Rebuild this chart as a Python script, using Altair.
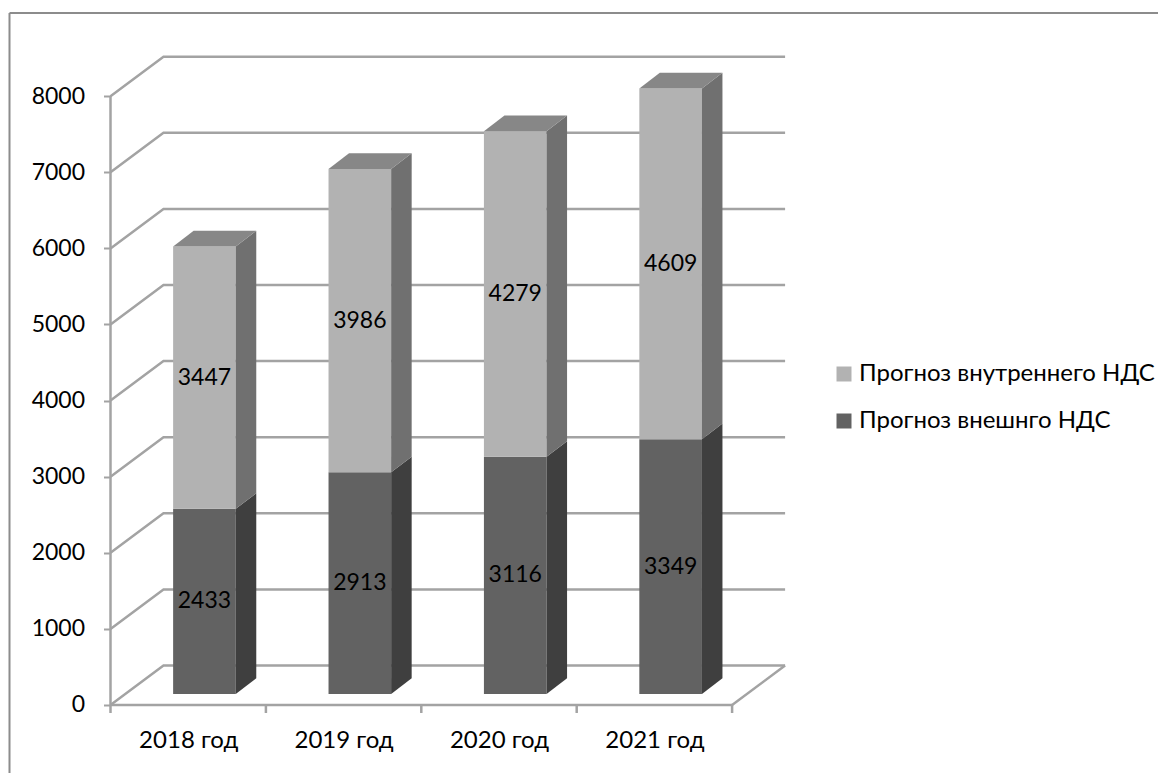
import json
import altair as alt
import pandas as pd

categories = ["2018 год", "2019 год", "2020 год", "2021 год"]
outer_vat = [2433, 2913, 3116, 3349]
inner_vat = [3447, 3986, 4279, 4609]
series_names = ["Прогноз внутреннего НДС", "Прогноз внешнго НДС"]
y_ticks = [0, 1000, 2000, 3000, 4000, 5000, 6000, 7000, 8000]

FONT = "Lato"
FS = 23
FS_TEXT = 24
INK = "#000000"
AXIS = "#a3a3a3"
BORDER = "#8c8c8c"
LIGHT = {"front": "#b2b2b2", "side": "#707070", "top": "#878787"}
DARK = {"front": "#626262", "side": "#3f3f3f", "top": "#878787"}

# 3-D projection expressed in data units (x: categories, y: value units)
WALL_DX, WALL_DV = 0.341, 519
BAR_DX, BAR_DV = 0.132, 206
BAR_LEFT, BAR_W = 0.403, 0.403
BASE = 144.5

xs = alt.Scale(domain=[-0.6596, 6.7407], nice=False, zero=False)
ys = alt.Scale(domain=[-893.6, 9159], nice=False, zero=False)

grid, front, side, top, labels = [], [], [], [], []
for v in y_ticks:
    grid.append({"x": 0, "y": v, "k": v})
    grid.append({"x": WALL_DX, "y": v + WALL_DV, "k": v})
    grid.append({"x": 4 + WALL_DX, "y": v + WALL_DV, "k": v})

for i in range(len(categories)):
    x0, x1 = i + BAR_LEFT, i + BAR_LEFT + BAR_W
    stack = [(0, outer_vat[i], series_names[1], DARK), (outer_vat[i], outer_vat[i] + inner_vat[i], series_names[0], LIGHT)]
    for j, (a, b, name, pal) in enumerate(stack):
        lo, hi = a + BASE, b + BASE
        front.append({"x": x0, "x2": x1, "y": lo, "y2": hi, "s": name})
        k = f"{i}-{j}"
        side.append({"x": x1, "y": lo, "y2": hi, "k": k, "c": pal["side"]})
        side.append({"x": x1 + BAR_DX, "y": lo + BAR_DV, "y2": hi + BAR_DV, "k": k, "c": pal["side"]})
        labels.append({"x": (x0 + x1) / 2, "y": (lo + hi) / 2, "t": str(b - a)})
    tv = stack[-1][1] + BASE
    top.append({"y": tv, "x": x0, "x2": x1, "k": i})
    top.append({"y": tv + BAR_DV, "x": x0 + BAR_DX, "x2": x1 + BAR_DX, "k": i})

y_axis = alt.Axis(values=y_ticks, grid=False, domain=False, offset=-102.5, tickSize=7, tickWidth=2,
                  tickColor=AXIS, labelFont=FONT, labelFontSize=FS, labelColor=INK, labelPadding=19, title=None,
                  format="d", labelBound=False, labelFlush=False)
label_expr = "%s[floor(datum.value)]" % json.dumps(categories, ensure_ascii=False)
x_axis = alt.Axis(values=[i + 0.5 for i in range(len(categories))], grid=False, domain=False, ticks=False,
                  offset=-68, labelExpr=label_expr, labelFont=FONT, labelFontSize=FS_TEXT, labelColor=INK,
                  labelPadding=23, title=None)
X = alt.X("x:Q", scale=xs, axis=x_axis)
Y = alt.Y("y:Q", scale=ys, axis=y_axis)

grid_l = alt.Chart(pd.DataFrame(grid)).mark_line(color=AXIS, strokeWidth=2.5).encode(x=X, y=Y, detail="k:N")

axis_lines = pd.DataFrame([
    {"x": 0, "x2": 0, "y": 0, "y2": 8000},
    {"x": 0, "x2": 4, "y": 0, "y2": 0},
] + [{"x": i, "x2": i, "y": 0, "y2": -105} for i in range(5)])
axis_l = alt.Chart(axis_lines).mark_rule(color=AXIS, strokeWidth=2.5).encode(x=X, x2="x2:Q", y=Y, y2="y2:Q")
end_diag = pd.DataFrame([{"x": 4, "y": 0}, {"x": 4 + WALL_DX, "y": WALL_DV}])
diag_l = alt.Chart(end_diag).mark_line(color=AXIS, strokeWidth=2.5).encode(x=X, y=Y)

front_l = alt.Chart(pd.DataFrame(front)).mark_rect().encode(
    x=X, x2="x2:Q", y=Y, y2="y2:Q",
    color=alt.Color("s:N", scale=alt.Scale(domain=series_names, range=[LIGHT["front"], DARK["front"]]),
                    sort=series_names,
                    legend=alt.Legend(title=None, orient="none", legendX=824, legendY=354, symbolType="square",
                                      symbolSize=225, symbolStrokeWidth=0, labelFont=FONT, labelFontSize=FS_TEXT,
                                      labelColor=INK, rowPadding=23, labelOffset=3, labelLimit=400,
                                      symbolOpacity=1, padding=0)))
side_l = alt.Chart(pd.DataFrame(side)).mark_area().encode(
    x=X, y=Y, y2="y2:Q", detail="k:N", color=alt.Color("c:N", scale=None))
top_l = alt.Chart(pd.DataFrame(top)).mark_area(orient="horizontal", color=LIGHT["top"]).encode(
    y=Y, x=X, x2="x2:Q", detail="k:N")
text_l = alt.Chart(pd.DataFrame(labels)).mark_text(font=FONT, fontSize=FS, color=INK, baseline="middle").encode(
    x=X, y=Y, text="t:N")

border_top = alt.Chart(pd.DataFrame({"a": [0]})).mark_rule(color=BORDER, strokeWidth=2).encode(
    x=alt.value(1.5), x2=alt.value(1150), y=alt.value(5))
border_left = alt.Chart(pd.DataFrame({"a": [0]})).mark_rule(color=BORDER, strokeWidth=2).encode(
    x=alt.value(1.5), y=alt.value(5), y2=alt.value(765))

chart = alt.layer(border_top, border_left, grid_l, axis_l, diag_l, front_l, side_l, top_l, text_l).resolve_scale(
    color="independent"
).properties(
    width=1150, height=765, padding=0, background="white",
    autosize=alt.AutoSizeParams(type="none"),
).configure_view(stroke=None)

chart.save("out.html", embed_options={"renderer": "svg", "actions": False})
